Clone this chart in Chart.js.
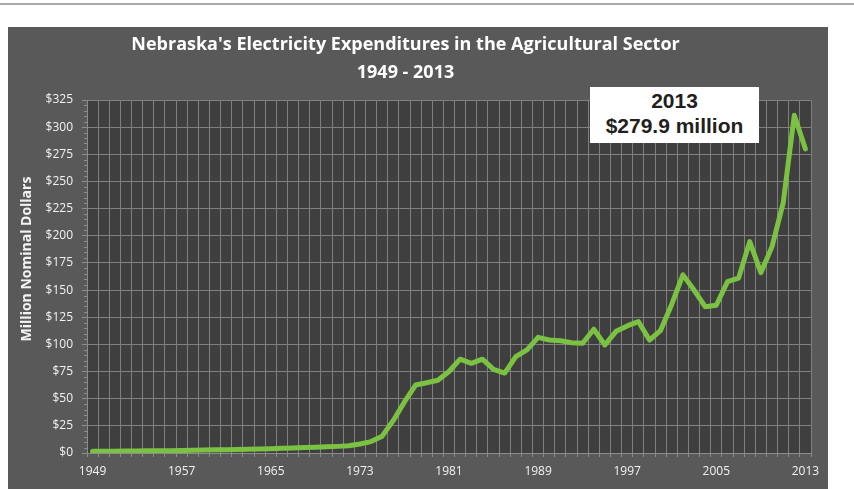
<!DOCTYPE html>
<html>
<head>
<meta charset="utf-8">
<script src="https://cdn.jsdelivr.net/npm/chart.js@4.4.1/dist/chart.umd.min.js"></script>
<style>
  html, body { margin: 0; padding: 0; background: #ffffff; }
  #wrap { position: relative; width: 854px; height: 489px; overflow: hidden; }
  #rule { position: absolute; left: 0; top: 3px; width: 854px; height: 2px; background: #a8a8a8; }
  #chart { position: absolute; left: 0; top: 0; }
  #note {
    position: absolute; left: 590px; top: 87px; width: 169px; height: 56px;
    background: #ffffff; color: #231f20; text-align: center;
    font-family: "Liberation Sans", Arial, sans-serif; font-weight: bold; font-size: 21px; line-height: 25px;
    padding-top: 1px; box-sizing: border-box;
  }
</style>
</head>
<body>
<div id="wrap">
  <div id="rule"></div>
  <canvas id="chart" width="854" height="489"></canvas>
  <div id="note">2013<br>$279.9 million</div>
</div>
<script>
const years = ['1949','1950','1951','1952','1953','1954','1955','1956','1957','1958',
  '1959','1960','1961','1962','1963','1964','1965','1966','1967','1968',
  '1969','1970','1971','1972','1973','1974','1975','1976','1977','1978',
  '1979','1980','1981','1982','1983','1984','1985','1986','1987','1988',
  '1989','1990','1991','1992','1993','1994','1995','1996','1997','1998',
  '1999','2000','2001','2002','2003','2004','2005','2006','2007','2008',
  '2009','2010','2011','2012','2013'];
const expenditures = [1.5,1.6,1.7,1.8,1.9,2.0,2.0,2.1,2.2,2.5,
  2.8,3.0,3.1,3.2,3.5,3.7,3.9,4.3,4.7,5.1,
  5.4,5.7,6.1,6.6,8.3,10.5,15.5,30,47,62.6,
  64.7,67,75,86.4,82.6,86.4,77,73.6,88.7,95,
  106.5,104,103.4,101.6,101,114,99.5,112,117,121,
  104,113,137,164,150,134.7,136,157.7,161,194.6,
  166,190,230,311,279.9];
const xTickLabels = ['1949','1957','1965','1973','1981','1989','1997','2005','2013'];
const yTickValues = [0,25,50,75,100,125,150,175,200,225,250,275,300,325];
const titleLines = ["Nebraska's Electricity Expenditures in the Agricultural Sector", '1949 - 2013'];
const yTitle = 'Million Nominal Dollars';

const bgPlugin = {
  id: 'bg',
  beforeDraw(chart) {
    const ctx = chart.ctx, a = chart.chartArea;
    ctx.save();
    ctx.fillStyle = '#595959';
    ctx.fillRect(8, 27, 820, 462);
    ctx.fillStyle = '#3f3f3f';
    ctx.fillRect(a.left, a.top, a.right - a.left, a.bottom - a.top);
    ctx.restore();
  },
  afterDraw(chart) {
    const ctx = chart.ctx, y = chart.scales.y, a = chart.chartArea;
    ctx.save();
    // minor ticks on the value axis
    ctx.strokeStyle = '#8c8c8c';
    ctx.lineWidth = 1;
    for (let v = 0; v <= 325; v += 5) {
      if (v % 25 === 0) continue;
      const py = Math.round(y.getPixelForValue(v)) + 0.5;
      ctx.beginPath();
      ctx.moveTo(a.left - 3, py);
      ctx.lineTo(a.left, py);
      ctx.stroke();
    }
    // value axis title
    ctx.translate(27, 259);
    ctx.rotate(-Math.PI / 2);
    ctx.fillStyle = '#f2f2f2';
    ctx.font = 'bold 14px "Open Sans"';
    ctx.textAlign = 'center';
    ctx.textBaseline = 'middle';
    ctx.fillText(yTitle, 0, 0);
    ctx.restore();
  }
};

new Chart(document.getElementById('chart'), {
  type: 'line',
  data: {
    labels: years,
    datasets: [{
      data: expenditures,
      borderColor: '#7cc242',
      borderWidth: 5,
      tension: 0,
      pointRadius: 0,
      borderJoinStyle: 'round',
      borderCapStyle: 'round',
      fill: false
    }]
  },
  options: {
    responsive: false,
    animation: false,
    events: [],
    layout: { padding: { top: 31, left: 0, right: 43, bottom: 0 } },
    plugins: {
      legend: { display: false },
      tooltip: { enabled: false },
      title: {
        display: true,
        text: titleLines,
        color: '#ffffff',
        font: { family: 'Open Sans', size: 18, weight: 'bold', lineHeight: 1.556 },
        padding: { top: 0, bottom: 13 }
      }
    },
    scales: {
      x: {
        type: 'category',
        offset: true,
        grid: { display: true, offset: true, color: '#808080', lineWidth: 1, drawTicks: true, tickLength: 4, tickColor: '#8c8c8c' },
        border: { display: true, color: '#8c8c8c' },
        ticks: {
          autoSkip: false, maxRotation: 0, minRotation: 0, padding: 7,
          color: '#f2f2f2',
          font: { family: 'Open Sans', size: 12 },
          callback: function (val, idx) {
            const l = years[idx];
            return xTickLabels.includes(l) ? l : '';
          }
        },
        afterFit(s) { s.height = 36; }
      },
      y: {
        min: 0, max: 325,
        afterBuildTicks(s) { s.ticks = yTickValues.map(v => ({ value: v })); },
        grid: { color: '#808080', lineWidth: 1, drawTicks: true, tickLength: 5, tickColor: '#8c8c8c' },
        border: { display: true, color: '#8c8c8c' },
        ticks: {
          color: '#f2f2f2', padding: 9,
          font: { family: 'Open Sans', size: 12 },
          callback: v => '$' + v
        },
        afterFit(s) { s.width = 87; }
      }
    }
  },
  plugins: [bgPlugin]
});
</script>
</body>
</html>
